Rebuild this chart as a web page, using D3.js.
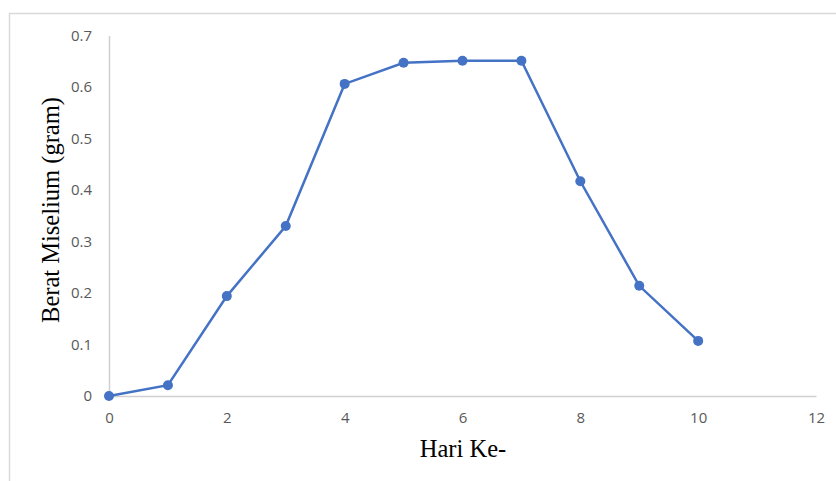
<!DOCTYPE html>
<html><head><meta charset="utf-8">
<script src="https://cdn.jsdelivr.net/npm/d3@7"></script>
<style>body{margin:0;background:#fff}svg{display:block}</style>
</head><body>
<script>
const days = [0,1,2,3,4,5,6,7,8,9,10];
const weights = [0,0.021,0.194,0.330,0.606,0.647,0.651,0.651,0.417,0.214,0.107];
const xTicks = [0,2,4,6,8,10,12];
const yTicks = [0,0.1,0.2,0.3,0.4,0.5,0.6,0.7];
const xTitle = "Hari Ke-";
const yTitle = "Berat Miselium (gram)";

const W=836,H=481;
const svg=d3.select("body").append("svg").attr("width",W).attr("height",H);
svg.append("rect").attr("x",9.5).attr("y",13.5).attr("width",W+20).attr("height",H+20)
  .attr("fill","#fff").attr("stroke","#d9d9d9").attr("stroke-width",1.5);

const x=d3.scaleLinear().domain([0,12]).range([109,816]);
const y=d3.scaleLinear().domain([0,0.7]).range([396,35.5]);

const xAxis=svg.append("g").attr("transform",`translate(0,${y(0)})`)
  .call(d3.axisBottom(x).tickValues(xTicks).tickSize(0).tickPadding(16).tickFormat(d3.format("d")));
const yAxis=svg.append("g").attr("transform",`translate(${x(0)},0)`)
  .call(d3.axisLeft(y).tickValues(yTicks).tickSize(0).tickPadding(17).tickFormat(d=>d===0?"0":d3.format(".1f")(d)));
[xAxis,yAxis].forEach(g=>{
  g.select(".domain").attr("stroke","#d0d0d0").attr("stroke-width",1.5);
  g.selectAll("text").attr("fill","#595959").style("font-family","'Open Sans', 'Noto Sans', sans-serif").style("font-size","15px");
});

svg.append("path").datum(days.map((d,i)=>[d,weights[i]]))
  .attr("fill","none").attr("stroke","#4472C4").attr("stroke-width",2.5)
  .attr("d",d3.line().x(d=>x(d[0])).y(d=>y(d[1])));
svg.selectAll("circle.pt").data(days).enter().append("circle")
  .attr("cx",d=>x(d)).attr("cy",(d,i)=>y(weights[i])).attr("r",5).attr("fill","#4472C4");

svg.append("text").attr("x",463).attr("y",457).attr("text-anchor","middle")
  .style("font-family","'Liberation Serif', serif").style("font-size","24.5px").attr("fill","#000").text(xTitle);
svg.append("text").attr("transform","translate(59,210) rotate(-90)").attr("text-anchor","middle")
  .style("font-family","'Liberation Serif', serif").style("font-size","24.5px").attr("fill","#000").text(yTitle);
</script>
</body></html>
